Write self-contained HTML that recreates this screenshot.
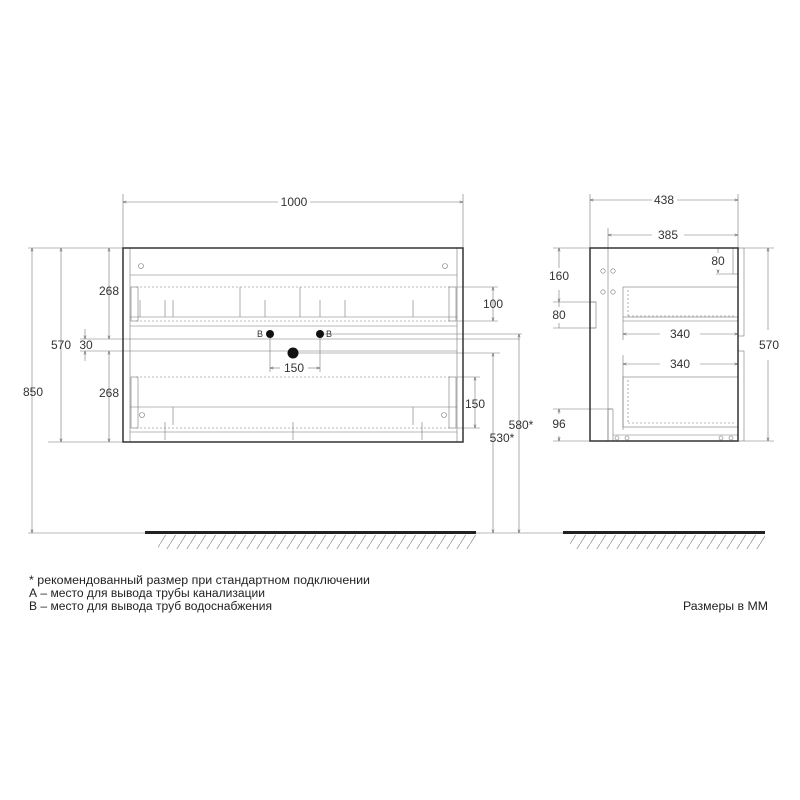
<!DOCTYPE html>
<html><head><meta charset="utf-8"><style>body{margin:0;background:#fff}svg{display:block}</style></head><body>
<svg width="800" height="800" viewBox="0 0 800 800" xmlns="http://www.w3.org/2000/svg" font-family="Liberation Sans, sans-serif">
<defs>
<pattern id="h" width="10" height="16" patternUnits="userSpaceOnUse"><line x1="10" y1="0" x2="0" y2="16" stroke="#999" stroke-width="0.8"/></pattern>
<marker id="a" markerWidth="6" markerHeight="6" refX="6" refY="3" orient="auto-start-reverse"><path d="M0,1 L6,3 L0,5" fill="none" stroke="#555" stroke-width="0.8"/></marker>
</defs>
<g stroke="#777" stroke-width="0.6" fill="none">
<line x1="123" y1="194" x2="123" y2="248"/><line x1="463" y1="194" x2="463" y2="248"/>
<line x1="123" y1="202" x2="278" y2="202" marker-start="url(#a)"/><line x1="310" y1="202" x2="463" y2="202" marker-end="url(#a)"/>
<line x1="28" y1="248" x2="123" y2="248"/><line x1="48" y1="442" x2="123" y2="442"/>
<line x1="28" y1="533" x2="145" y2="533"/>
<line x1="32" y1="248" x2="32" y2="533" marker-start="url(#a)" marker-end="url(#a)"/>
<line x1="61" y1="248" x2="61" y2="442" marker-start="url(#a)" marker-end="url(#a)"/>
<line x1="109" y1="248" x2="109" y2="339" marker-start="url(#a)" marker-end="url(#a)"/>
<line x1="109" y1="351" x2="109" y2="442" marker-start="url(#a)" marker-end="url(#a)"/>
<line x1="85" y1="329" x2="85" y2="339" marker-end="url(#a)"/><line x1="85" y1="361" x2="85" y2="351" marker-end="url(#a)"/>
<line x1="80" y1="339" x2="520" y2="339"/><line x1="80" y1="351" x2="457" y2="351"/>
<line x1="293" y1="353" x2="500" y2="353"/><line x1="320" y1="334" x2="522" y2="334"/>
<line x1="457" y1="287" x2="498" y2="287"/><line x1="457" y1="321" x2="498" y2="321"/>
<line x1="493" y1="287" x2="493" y2="321" marker-start="url(#a)" marker-end="url(#a)"/>
<line x1="457" y1="377" x2="480" y2="377"/><line x1="457" y1="428" x2="480" y2="428"/>
<line x1="475" y1="377" x2="475" y2="428" marker-start="url(#a)" marker-end="url(#a)"/>
<line x1="493" y1="353" x2="493" y2="533" marker-start="url(#a)" marker-end="url(#a)"/>
<line x1="519" y1="334" x2="519" y2="533" marker-start="url(#a)" marker-end="url(#a)"/>
<line x1="476" y1="533" x2="530" y2="533"/>
<line x1="270" y1="334" x2="270" y2="372"/><line x1="320" y1="334" x2="320" y2="372"/>
<line x1="270" y1="368" x2="280" y2="368" marker-start="url(#a)"/><line x1="308" y1="368" x2="320" y2="368" marker-end="url(#a)"/>
<line x1="130" y1="248" x2="130" y2="442"/><line x1="457" y1="248" x2="457" y2="442"/>
<line x1="130" y1="275" x2="457" y2="275"/><line x1="130" y1="317" x2="457" y2="317"/><line x1="130" y1="326" x2="457" y2="326"/>
<line x1="130" y1="407" x2="457" y2="407"/><line x1="130" y1="432" x2="457" y2="432"/>
<line x1="136" y1="287" x2="451" y2="287" stroke-dasharray="2 2"/><line x1="136" y1="321" x2="451" y2="321" stroke-dasharray="2 2"/>
<line x1="136" y1="377" x2="451" y2="377" stroke-dasharray="2 2"/><line x1="136" y1="428" x2="451" y2="428" stroke-dasharray="2 2"/>
<rect x="131" y="287" width="7" height="34"/><rect x="449" y="287" width="7" height="34"/>
<rect x="131" y="377" width="7" height="51"/><rect x="449" y="377" width="7" height="51"/>
<line x1="140" y1="300" x2="140" y2="317"/><line x1="165" y1="300" x2="165" y2="317"/><line x1="173" y1="300" x2="173" y2="317"/>
<line x1="240" y1="287" x2="240" y2="317"/><line x1="265" y1="300" x2="265" y2="317"/><line x1="300" y1="287" x2="300" y2="317"/>
<line x1="320" y1="300" x2="320" y2="317"/><line x1="345" y1="300" x2="345" y2="317"/><line x1="413" y1="300" x2="413" y2="317"/>
<line x1="173" y1="407" x2="173" y2="425"/><line x1="413" y1="407" x2="413" y2="425"/>
<line x1="165" y1="422" x2="165" y2="440"/><line x1="293" y1="422" x2="293" y2="440"/><line x1="422" y1="422" x2="422" y2="440"/>
<circle cx="141" cy="266" r="2.5"/><circle cx="445" cy="266" r="2.5"/><circle cx="142" cy="415" r="2.5"/><circle cx="444" cy="415" r="2.5"/>
<line x1="590" y1="194" x2="590" y2="248"/><line x1="738" y1="194" x2="738" y2="248"/><line x1="608" y1="228" x2="608" y2="441"/>
<line x1="590" y1="200" x2="652" y2="200" marker-start="url(#a)"/><line x1="677" y1="200" x2="738" y2="200" marker-end="url(#a)"/>
<line x1="608" y1="235" x2="652" y2="235" marker-start="url(#a)"/><line x1="684" y1="235" x2="738" y2="235" marker-end="url(#a)"/>
<line x1="553" y1="248" x2="590" y2="248"/><line x1="553" y1="302" x2="596" y2="302"/><line x1="553" y1="328" x2="596" y2="328"/>
<line x1="553" y1="409" x2="612" y2="409"/><line x1="553" y1="441" x2="590" y2="441"/>
<line x1="559" y1="248" x2="559" y2="268" marker-start="url(#a)"/><line x1="559" y1="290" x2="559" y2="302" marker-end="url(#a)"/>
<line x1="559" y1="302" x2="559" y2="307"/><line x1="559" y1="323" x2="559" y2="328"/>
<line x1="559" y1="409" x2="559" y2="414" marker-start="url(#a)"/><line x1="559" y1="436" x2="559" y2="441" marker-end="url(#a)"/>
<rect x="590" y="302" width="6" height="26"/><rect x="608" y="409" width="5" height="32"/>
<line x1="718" y1="248" x2="718" y2="253"/><line x1="718" y1="270" x2="718" y2="273" marker-end="url(#a)"/><line x1="716" y1="274" x2="733" y2="274"/>
<rect x="733" y="248" width="5" height="26"/>
<rect x="738" y="248" width="6" height="88"/><rect x="738" y="351" width="6" height="90"/>
<line x1="744" y1="248" x2="774" y2="248"/><line x1="744" y1="441" x2="774" y2="441"/>
<line x1="768" y1="248" x2="768" y2="330" marker-start="url(#a)"/><line x1="768" y1="360" x2="768" y2="441" marker-end="url(#a)"/>
<rect x="623" y="287" width="115" height="30"/><line x1="623" y1="321" x2="738" y2="321"/><line x1="623" y1="317" x2="623" y2="340"/>
<line x1="628" y1="290" x2="628" y2="317" stroke-dasharray="2 2"/><line x1="628" y1="316" x2="734" y2="316" stroke-dasharray="2 2"/>
<line x1="623" y1="334" x2="660" y2="334" marker-start="url(#a)"/><line x1="700" y1="334" x2="738" y2="334" marker-end="url(#a)"/>
<line x1="623" y1="355" x2="623" y2="430"/>
<line x1="623" y1="364" x2="660" y2="364" marker-start="url(#a)"/><line x1="700" y1="364" x2="738" y2="364" marker-end="url(#a)"/>
<rect x="623" y="377" width="115" height="50"/><line x1="628" y1="380" x2="628" y2="423" stroke-dasharray="2 2"/><line x1="628" y1="423" x2="734" y2="423" stroke-dasharray="2 2"/>
<line x1="613" y1="435" x2="738" y2="435"/>
<circle cx="603" cy="271" r="2.2"/><circle cx="613" cy="271" r="2.2"/><circle cx="603" cy="292" r="2.2"/><circle cx="613" cy="292" r="2.2"/>
<circle cx="617" cy="438" r="2"/><circle cx="627" cy="438" r="2"/><circle cx="721" cy="438" r="2"/><circle cx="731" cy="438" r="2"/>
<line x1="530" y1="533" x2="563" y2="533"/>
</g>
<rect x="123" y="248" width="340" height="194" fill="none" stroke="#333" stroke-width="1.5"/>
<rect x="590" y="248" width="148" height="193" fill="none" stroke="#333" stroke-width="1.5"/>
<circle cx="270" cy="334" r="4" fill="#111"/><circle cx="320" cy="334" r="4" fill="#111"/><circle cx="293" cy="353" r="5.5" fill="#111"/>
<rect x="145" y="531" width="331" height="3" fill="#222"/><rect x="563" y="531" width="202" height="3" fill="#222"/>
<rect x="158" y="535" width="318" height="14" fill="url(#h)"/><rect x="570" y="535" width="195" height="14" fill="url(#h)"/>
<g font-size="12" fill="#333" text-anchor="middle">
<text x="294" y="206">1000</text><text x="664" y="204">438</text><text x="668" y="239">385</text>
<text x="33" y="396">850</text><text x="61" y="349">570</text><text x="86" y="349">30</text>
<text x="109" y="295">268</text><text x="109" y="397">268</text>
<text x="294" y="372">150</text><text x="493" y="308">100</text><text x="475" y="408">150</text>
<text x="502" y="442">530*</text><text x="521" y="429">580*</text>
<text x="559" y="280">160</text><text x="559" y="319">80</text><text x="559" y="428">96</text>
<text x="718" y="265">80</text><text x="680" y="338">340</text><text x="680" y="368">340</text><text x="769" y="349">570</text>
</g>
<g font-size="9" fill="#333"><text x="257" y="337">B</text><text x="326" y="337">B</text></g>
<g font-size="11.5" fill="#222">
<text x="29" y="584" textLength="341" lengthAdjust="spacingAndGlyphs">* рекомендованный размер при стандартном подключении</text>
<text x="29" y="597" textLength="236" lengthAdjust="spacingAndGlyphs">А – место для вывода трубы канализации</text>
<text x="29" y="610" textLength="243" lengthAdjust="spacingAndGlyphs">В – место для вывода труб водоснабжения</text>
<text x="683" y="610" textLength="85" lengthAdjust="spacingAndGlyphs">Размеры в ММ</text>
</g>
</svg>
</body></html>
